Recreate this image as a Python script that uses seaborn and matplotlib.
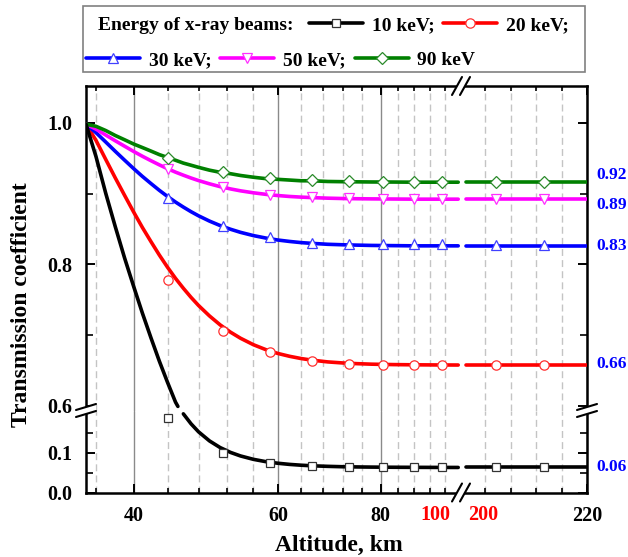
import matplotlib
matplotlib.use("Agg")
import matplotlib.pyplot as plt
import matplotlib.transforms as mtransforms
from matplotlib.lines import Line2D
from matplotlib.patches import Rectangle, Polygon
from matplotlib.ticker import NullFormatter
import seaborn as sns

# ---------------- data ----------------
# smooth fitted curves, near segment (altitude in km, log axis 35..100)
curve_alt = [35, 36, 37, 38, 39, 40, 41, 42, 43, 44, 45, 46, 47, 48, 49.5, 51, 52.5,
             54, 56, 58, 60, 62, 64, 66, 69, 72, 75, 78, 83, 88, 94, 99.5]
curve_90 = [0.998, 0.995, 0.989, 0.982, 0.976, 0.970, 0.965, 0.960, 0.955, 0.951,
            0.947, 0.943, 0.940, 0.937, 0.933, 0.930, 0.928, 0.9255, 0.923, 0.921,
            0.920, 0.919, 0.918, 0.918, 0.917, 0.9167, 0.9165, 0.9163, 0.9162, 0.916,
            0.916, 0.916]
curve_50 = [0.998, 0.991, 0.9826, 0.9745, 0.9669, 0.9595, 0.9527, 0.9464, 0.9405,
            0.9351, 0.9302, 0.9259, 0.9219, 0.9183, 0.9137, 0.9097, 0.9065, 0.9038,
            0.9010, 0.8988, 0.8971, 0.8958, 0.8949, 0.8942, 0.8934, 0.8929, 0.8926,
            0.8924, 0.8922, 0.892, 0.892, 0.892]
curve_30 = [0.998, 0.986, 0.9727, 0.9596, 0.9472, 0.9353, 0.9242, 0.9141, 0.9045,
            0.8958, 0.8879, 0.8808, 0.8743, 0.8685, 0.8610, 0.8547, 0.8495, 0.8451,
            0.8405, 0.8370, 0.8342, 0.8322, 0.8306, 0.8295, 0.8282, 0.8275, 0.8270,
            0.8266, 0.8263, 0.826, 0.826, 0.826]
curve_20 = [0.998, 0.975, 0.948, 0.922, 0.8975, 0.874, 0.852, 0.832, 0.813, 0.7957,
            0.780, 0.766, 0.7532, 0.7417, 0.7269, 0.7143, 0.704, 0.6954, 0.6862, 0.6792,
            0.6738, 0.6698, 0.6667, 0.6644, 0.6619, 0.6604, 0.6594, 0.6587, 0.6581,
            0.6578, 0.6576, 0.6575]
# 10 keV curve crosses the y-axis break (upper part >0.59, lower part <0.21)
black_alt = [35, 36, 37, 38, 39, 40, 41, 42, 43, 44, 45, 45.3,
             46, 47, 48, 49.5, 51, 52.5, 54, 56, 58, 60, 62, 64, 66, 69, 72, 75, 78,
             83, 88, 94, 99.5]
curve_10 = [0.998, 0.952, 0.900, 0.853, 0.809, 0.769, 0.731, 0.696, 0.663, 0.633,
            0.605, 0.599,
            0.1988, 0.1737, 0.1534, 0.1304, 0.1136, 0.1014, 0.0924, 0.0838, 0.0779,
            0.0739, 0.0710, 0.0690, 0.0675, 0.0661, 0.0651, 0.0646, 0.0642, 0.0638,
            0.0636, 0.0634, 0.0633]

# far segment (200..220 km)
far_alt = [201, 220]
far_90 = [0.916, 0.916]
far_50 = [0.892, 0.892]
far_30 = [0.826, 0.826]
far_20 = [0.6575, 0.6575]
far_10 = [0.0633, 0.0633]

# measured points (markers)
marker_alt = [44, 51.4, 58.6, 66, 73.2, 80.6, 88, 95]
marker_alt_far = [205.7, 213.3]
m90 = [0.950, 0.931, 0.922, 0.919, 0.917, 0.916, 0.916, 0.916]
m50 = [0.934, 0.909, 0.898, 0.895, 0.893, 0.892, 0.892, 0.892]
m30 = [0.893, 0.854, 0.838, 0.830, 0.828, 0.828, 0.828, 0.828]
m20 = [0.778, 0.706, 0.676, 0.663, 0.659, 0.658, 0.658, 0.658]
m10 = [0.188, 0.099, 0.075, 0.068, 0.065, 0.065, 0.064, 0.064]
m90_far = [0.916, 0.916]
m50_far = [0.892, 0.892]
m30_far = [0.827, 0.827]
m20_far = [0.658, 0.658]
m10_far = [0.064, 0.064]

series_labels = ["10 keV;", "20 keV;", "30 keV;", "50 keV;", "90 keV"]
legend_title = "Energy of x-ray beams:"
right_label_text = ["0.92", "0.89", "0.83", "0.66", "0.06"]
right_label_pos = [0.926, 0.884, 0.826, 0.6585, 0.065]

# ---------------- style ----------------
sns.set_theme(style="white")
plt.rcParams['font.family'] = ['Liberation Serif', 'DejaVu Serif']
plt.rcParams['font.weight'] = 'bold'
plt.rcParams['axes.labelweight'] = 'bold'
plt.rcParams['axes.edgecolor'] = 'black'
plt.rcParams['axes.linewidth'] = 1.8
plt.rcParams['xtick.color'] = 'black'
plt.rcParams['ytick.color'] = 'black'
plt.rcParams['text.color'] = 'black'

colors = {"10": "#000000", "20": "#ff0000", "30": "#0000ff", "50": "#ff00ff", "90": "#008000"}
medge = {"10": "#333333", "20": "#ff3030", "30": "#4040ff", "50": "#ff30ff", "90": "#2a8a2a"}
markers = {"10": "s", "20": "o", "30": "^", "50": "v", "90": "D"}
msizes = {"10": 6.0, "20": 6.7, "30": 7.0, "50": 7.0, "90": 6.0}
LW = 2.6

W, H = 628, 557
fig = plt.figure(figsize=(W / 100, H / 100), dpi=100)


def fx(p):
    return p / W


def fy(p):
    return 1 - p / H


xL, xB, xR = 86, 460, 587
yT, yB, yBot = 86, 411, 492.5

ax_tl = fig.add_axes([fx(xL), fy(yB), fx(xB) - fx(xL), fy(yT) - fy(yB)])
ax_tr = fig.add_axes([fx(xB), fy(yB), fx(xR) - fx(xB), fy(yT) - fy(yB)])
ax_bl = fig.add_axes([fx(xL), fy(yBot), fx(xB) - fx(xL), fy(yB) - fy(yBot)])
ax_br = fig.add_axes([fx(xB), fy(yBot), fx(xR) - fx(xB), fy(yB) - fy(yBot)])

for ax in (ax_tl, ax_bl):
    ax.set_xscale('log')
    ax.set_xlim(35, 100)
for ax in (ax_tr, ax_br):
    ax.set_xlim(200, 220)
for ax in (ax_tl, ax_tr):
    ax.set_ylim(0.5925, 1.052)
for ax in (ax_bl, ax_br):
    ax.set_ylim(0, 0.206)


def curve(ax, x, y, key):
    sns.lineplot(x=x, y=y, ax=ax, color=colors[key], linewidth=LW, sort=False,
                 estimator=None, legend=False, zorder=3)


def points(ax, x, y, key):
    sns.lineplot(x=x, y=y, ax=ax, color=colors[key], marker=markers[key],
                 markersize=msizes[key], markerfacecolor='white',
                 markeredgecolor=medge[key], markeredgewidth=0.9,
                 linestyle='none', sort=False, estimator=None, legend=False, zorder=4)


near = {"90": curve_90, "50": curve_50, "30": curve_30, "20": curve_20}
far = {"90": far_90, "50": far_50, "30": far_30, "20": far_20}
mnear = {"90": m90, "50": m50, "30": m30, "20": m20}
mfar = {"90": m90_far, "50": m50_far, "30": m30_far, "20": m20_far}

for k in ["20", "30", "50", "90"]:
    curve(ax_tl, curve_alt, near[k], k)
    curve(ax_tr, far_alt, far[k], k)
    points(ax_tl, marker_alt, mnear[k], k)
    points(ax_tr, marker_alt_far, mfar[k], k)

# 10 keV: split at the axis break
b_top = [(a, v) for a, v in zip(black_alt, curve_10) if v > 0.4]
b_bot = [(a, v) for a, v in zip(black_alt, curve_10) if v <= 0.4]
curve(ax_tl, [p[0] for p in b_top], [p[1] for p in b_top], "10")
curve(ax_bl, [p[0] for p in b_bot], [p[1] for p in b_bot], "10")
curve(ax_br, far_alt, far_10, "10")
points(ax_bl, marker_alt, m10, "10")
points(ax_br, marker_alt_far, m10_far, "10")

# ---------------- axes decoration ----------------
minor_near = [36, 44, 48, 52, 56, 64, 68, 72, 76, 84, 88, 92, 96]
for ax in (ax_tl, ax_bl):
    ax.set_xticks([40, 60, 80])
    ax.set_xticks(minor_near, minor=True)
    ax.xaxis.set_minor_formatter(NullFormatter())
for ax in (ax_tr, ax_br):
    ax.set_xticks([220])
    ax.set_xticks([204, 208, 212, 216], minor=True)
ax_bl.set_xticklabels(["40", "60", "80"])
ax_br.set_xticklabels(["220"])

for ax in (ax_tl, ax_tr):
    ax.set_yticks([0.6, 0.8, 1.0])
    ax.set_yticks([0.7, 0.9], minor=True)
for ax in (ax_bl, ax_br):
    ax.set_yticks([0.0, 0.1])
    ax.set_yticks([0.05, 0.15], minor=True)
ax_tl.set_yticklabels(["0.6", "0.8", "1.0"])
ax_bl.set_yticklabels(["0.0", "0.1"])

for ax in (ax_tl, ax_tr, ax_bl, ax_br):
    ax.set_axisbelow(True)
    ax.grid(False)
    ax.grid(which='major', axis='x', color='#8a8a8a', linewidth=1.0, linestyle='-')
    ax.grid(which='minor', axis='x', color='#c4c4c4', linewidth=1.0, linestyle=(0, (5, 3)))
    ax.tick_params(which='major', length=6.5, width=1.4, direction='in')
    ax.tick_params(which='minor', length=3.8, width=1.2, direction='in')
    ax.tick_params(axis='x', which='minor', length=3.6)
    ax.tick_params(axis='y', which='minor', length=5)
    ax.tick_params(axis='both', labelsize=14.5)
    ax.set_xlabel("")
    ax.set_ylabel("")
    for s in ax.spines.values():
        s.set_linewidth(1.8)
        s.set_color('black')

ax_tl.tick_params(axis='x', which='both', top=True, bottom=False, labelbottom=False)
ax_tr.tick_params(axis='x', which='both', top=True, bottom=False, labelbottom=False)
ax_bl.tick_params(axis='x', which='both', top=False, bottom=True, labelbottom=True, pad=9.5)
ax_br.tick_params(axis='x', which='both', top=False, bottom=True, labelbottom=True, pad=9.5)
ax_tl.tick_params(axis='y', which='both', left=True, right=False, labelleft=True, pad=10)
ax_bl.tick_params(axis='y', which='both', left=True, right=False, labelleft=True, pad=10)
ax_tr.tick_params(axis='y', which='both', left=False, right=True, labelleft=False)
ax_br.tick_params(axis='y', which='both', left=False, right=True, labelleft=False)

ax_tl.spines['right'].set_visible(False)
ax_tl.spines['bottom'].set_visible(False)
ax_tr.spines['left'].set_visible(False)
ax_tr.spines['bottom'].set_visible(False)
ax_bl.spines['right'].set_visible(False)
ax_bl.spines['top'].set_visible(False)
ax_br.spines['left'].set_visible(False)
ax_br.spines['top'].set_visible(False)

# red labels around the x break
fig.text(fx(435), fy(515), "100", color='#ff0000', ha='center', va='center', fontsize=14.5)
fig.text(fx(483), fy(515), "200", color='#ff0000', ha='center', va='center', fontsize=14.5)

# plateau values on the right
for txt, pos, ax in zip(right_label_text, right_label_pos, [ax_tr, ax_tr, ax_tr, ax_tr, ax_br]):
    tr = mtransforms.blended_transform_factory(fig.transFigure, ax.transData)
    ax.text(fx(596), pos, txt, transform=tr, color='#0000ff', ha='left', va='center',
            fontsize=12.5, clip_on=False)

# axis titles
fig.text(fx(339), fy(545), "Altitude, km", ha='center', va='center', fontsize=17)
fig.text(fx(22), fy(305), "Transmission coefficient", ha='center', va='center',
         rotation=90, fontsize=17)


# ---------------- break marks ----------------
def add_break(pts_a, pts_b):
    poly = Polygon([(fx(pts_a[0][0]), fy(pts_a[0][1])), (fx(pts_a[1][0]), fy(pts_a[1][1])),
                    (fx(pts_b[1][0]), fy(pts_b[1][1])), (fx(pts_b[0][0]), fy(pts_b[0][1]))],
                   closed=True, transform=fig.transFigure, facecolor='white',
                   edgecolor='none', zorder=10)
    fig.add_artist(poly)
    for p in (pts_a, pts_b):
        fig.add_artist(Line2D([fx(p[0][0]), fx(p[1][0])], [fy(p[0][1]), fy(p[1][1])],
                              transform=fig.transFigure, color='black', lw=1.5, zorder=11))


for cy in (yT, yBot):
    add_break([(452, cy + 9), (462, cy - 9)], [(460, cy + 9), (470, cy - 9)])
for cx in (xL, xR):
    add_break([(cx - 10, yB - 1), (cx + 10, yB - 7)], [(cx - 10, yB + 6), (cx + 10, yB)])


# ---------------- legend ----------------
def handle(k):
    return Line2D([0], [0], color=colors[k], lw=LW, marker=markers[k], ms=msizes[k],
                  mfc='white', mec=medge[k], mew=0.9)


keys = ["10", "20", "30", "50", "90"]
hs = [handle(k) for k in keys]
fig.text(fx(98), fy(25), legend_title, ha='left', va='center', fontsize=14)
common = dict(frameon=False, fontsize=14, handlelength=2.78, handletextpad=0.45,
              columnspacing=0.45, borderpad=0, borderaxespad=0, loc='center left')
leg1 = fig.legend(handles=hs[:2], labels=series_labels[:2], ncol=2,
                  bbox_to_anchor=(fx(309), fy(25)), **common)
leg2 = fig.legend(handles=hs[2:], labels=series_labels[2:], ncol=3,
                  bbox_to_anchor=(fx(86), fy(60)), **common)
fig.add_artist(Rectangle((fx(83), fy(71.7)), fx(585) - fx(83), fy(5.7) - fy(71.7),
                         transform=fig.transFigure, fill=False, edgecolor='#808080', lw=1.2))

fig.savefig("out.png", dpi=100)
